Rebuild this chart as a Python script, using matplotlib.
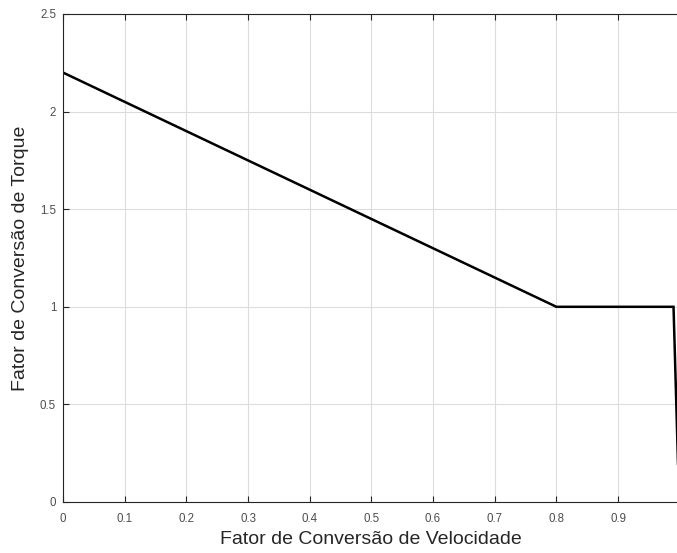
import matplotlib
matplotlib.use('Agg')
import matplotlib.pyplot as plt
import numpy as np

# Curve
vel = [0.0, 0.8, 0.99, 0.999]
torque = [2.2, 1.0, 1.0, 0.0]

xticks = [0, 0.1, 0.2, 0.3, 0.4, 0.5, 0.6, 0.7, 0.8, 0.9]
xticklabels = ['0', '0.1', '0.2', '0.3', '0.4', '0.5', '0.6', '0.7', '0.8', '0.9']
yticks = [0, 0.5, 1, 1.5, 2, 2.5]
yticklabels = ['0', '0.5', '1', '1.5', '2', '2.5']

plt.rcParams['font.family'] = ['Liberation Sans', 'DejaVu Sans']

fig = plt.figure(figsize=(6.77, 5.53), dpi=100)
# axes run slightly past the right edge, like the cropped original
ax = fig.add_axes([63 / 677, 51 / 553, 616.7 / 677, 488 / 553])

ax.plot(vel, torque, color='black', linewidth=1.8, solid_joinstyle='miter')

ax.set_xlim(0, 1)
ax.set_ylim(0, 2.5)
ax.set_xticks(xticks)
ax.set_xticklabels(xticklabels)
ax.set_yticks(yticks)
ax.set_yticklabels(yticklabels)

ax.grid(True, color='#dcdcdc', linewidth=0.8)
ax.set_axisbelow(True)

for s in ax.spines.values():
    s.set_color('#262626')
    s.set_linewidth(0.8)

ax.tick_params(direction='in', length=4, width=0.8, colors='#262626',
               labelsize=8.3, top=True, right=False, pad=5)
ax.tick_params(axis='x', pad=8)
for lab in ax.get_xticklabels() + ax.get_yticklabels():
    lab.set_color('#4d4d4d')

ax.set_xlabel('Fator de Conversão de Velocidade', fontsize=14, color='#262626', labelpad=4)
ax.set_ylabel('Fator de Conversão de Torque', fontsize=14, color='#262626', labelpad=8)

fig.savefig('out.png', dpi=100)
